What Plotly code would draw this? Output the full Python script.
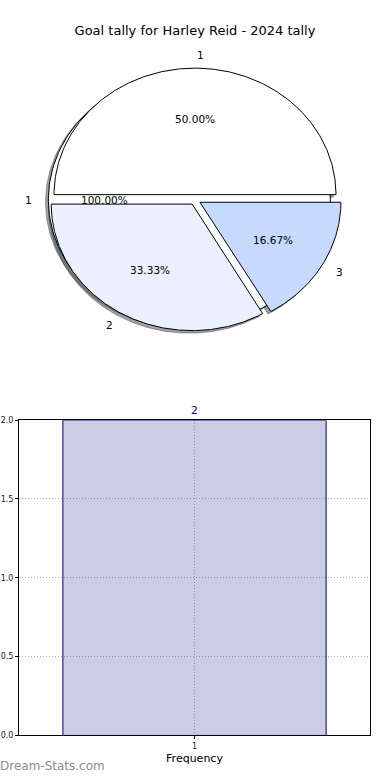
import numpy as np
import plotly.graph_objects as go

# ---------------- data ----------------
chart_title = "Goal tally for Harley Reid - 2024 tally"
goal_labels = ["1", "2", "3"]
goal_counts = [3, 2, 1]
goal_colors = ["#ffffff", "#eaf0fd", "#c6d9fe"]
total_labels = ["1"]
total_counts = [1]
total_colors = ["#ffffff"]
freq_x = [1]
freq_y = [2]
freq_ticks = [0.0, 0.5, 1.0, 1.5, 2.0]
watermark = "Dream-Stats.com"

FONT = "DejaVu Sans"
W, H = 390, 780

# pie pixel geometry (elliptical pie as in the reference)
RX_PX, RY_PX = 141.0, 128.0
PIE_CX_PX, PIE_CY_PX = 195.0, 198.0
PIE_TOP_PX = 390.0
EXPLODE = 0.04
SHADOW = (-0.02, -0.02)


def pie_geometry(values, explode=EXPLODE, startangle=0.0):
    total = float(sum(values))
    t1 = startangle
    out = []
    for v in values:
        t2 = t1 + 360.0 * v / total
        mid = np.radians((t1 + t2) / 2.0)
        cx, cy = explode * np.cos(mid), explode * np.sin(mid)
        out.append(dict(t1=t1, t2=t2, cx=cx, cy=cy, mid=mid, frac=v / total))
        t1 = t2
    return out


def wedge_xy(g, dx=0.0, dy=0.0, n=240):
    t = np.radians(np.linspace(g["t1"], g["t2"], n))
    xs = g["cx"] + dx + np.cos(t)
    ys = g["cy"] + dy + np.sin(t)
    if g["t2"] - g["t1"] < 359.999:
        xs = np.concatenate([[g["cx"] + dx], xs, [g["cx"] + dx]])
        ys = np.concatenate([[g["cy"] + dy], ys, [g["cy"] + dy]])
    return xs, ys


def hex_rgb(h):
    h = h.lstrip("#")
    return tuple(int(h[i:i + 2], 16) for i in (0, 2, 4))


def shadow_color(h):
    r, g, b = hex_rgb(h)
    return f"rgba({int(0.3*r)},{int(0.3*g)},{int(0.3*b)},0.5)"


fig = go.Figure()

pies = [
    (total_labels, total_counts, total_colors),
    (goal_labels, goal_counts, goal_colors),
]
geoms = [pie_geometry(vals) for _, vals, _ in pies]

# shadows first (lower z-order), then wedges
for (labels, vals, cols), gs in zip(pies, geoms):
    for g, c in zip(gs, cols):
        xs, ys = wedge_xy(g, *SHADOW)
        sc = shadow_color(c)
        fig.add_trace(go.Scatter(x=xs, y=ys, mode="lines", fill="toself",
                                 fillcolor=sc, line=dict(color=sc, width=1),
                                 hoverinfo="skip", showlegend=False,
                                 xaxis="x", yaxis="y"))
for (labels, vals, cols), gs in zip(pies, geoms):
    for g, c, lab in zip(gs, cols, labels):
        xs, ys = wedge_xy(g)
        fig.add_trace(go.Scatter(x=xs, y=ys, mode="lines", fill="toself",
                                 fillcolor=c, line=dict(color="black", width=1),
                                 name=lab, hoverinfo="skip", showlegend=False,
                                 xaxis="x", yaxis="y"))

annotations = []
for (labels, vals, cols), gs in zip(pies, geoms):
    for g, lab in zip(gs, labels):
        lx = g["cx"] + 1.1 * np.cos(g["mid"])
        ly = g["cy"] + 1.1 * np.sin(g["mid"])
        annotations.append(dict(x=lx, y=ly, xref="x", yref="y", text=lab,
                                showarrow=False, xanchor="left" if lx > 0 else "right",
                                yanchor="middle", font=dict(family=FONT, size=10.5, color="black")))
        px_ = g["cx"] + 0.6 * np.cos(g["mid"])
        py_ = g["cy"] + 0.6 * np.sin(g["mid"])
        annotations.append(dict(x=px_, y=py_, xref="x", yref="y",
                                text=f"{100*g['frac']:.2f}%", showarrow=False,
                                xanchor="center", yanchor="middle",
                                font=dict(family=FONT, size=10.5, color="black")))

# ---------------- bar chart ----------------
fig.add_trace(go.Bar(x=freq_x, y=freq_y, width=0.75,
                     marker=dict(color="rgba(0,0,128,0.2)",
                                 line=dict(color="navy", width=1)),
                     hoverinfo="skip", showlegend=False,
                     xaxis="x2", yaxis="y2"))
for xv, yv in zip(freq_x, freq_y):
    annotations.append(dict(x=xv, y=yv, xref="x2", yref="y2", text=str(yv),
                            showarrow=False, xanchor="center", yanchor="bottom",
                            yshift=2, font=dict(family=FONT, size=10.5, color="navy")))

annotations.append(dict(x=-2 / W, y=1 - 771 / H, xref="paper", yref="paper",
                        text=watermark, showarrow=False, xanchor="left",
                        yanchor="middle",
                        font=dict(family=FONT, size=12, color="#8c8c8c")))

# axes geometry
x_half = PIE_CX_PX / RX_PX
y_top = PIE_CY_PX / RY_PX
y_bot = -(PIE_TOP_PX - PIE_CY_PX) / RY_PX

bx0, bx1 = 19.0, 370.0
by0, by1 = 421.0, 740.0

fig.update_layout(
    width=W, height=H,
    margin=dict(l=0, r=0, t=0, b=0),
    paper_bgcolor="white", plot_bgcolor="white",
    font=dict(family=FONT, color="black"),
    title=dict(text=chart_title, x=0.5, xanchor="center",
               y=1 - 30 / H, yanchor="middle",
               font=dict(family=FONT, size=13, color="black")),
    xaxis=dict(domain=[0, 1], range=[-x_half, x_half], visible=False,
               fixedrange=True),
    yaxis=dict(domain=[1 - PIE_TOP_PX / H, 1], range=[y_bot, y_top],
               visible=False, fixedrange=True),
    xaxis2=dict(domain=[bx0 / W, bx1 / W], anchor="y2", range=[0.5, 1.5],
                tickvals=freq_x, ticktext=[str(v) for v in freq_x],
                showline=True, linecolor="black", linewidth=1, mirror=True,
                ticks="outside", ticklen=3, tickcolor="black",
                showgrid=True, gridcolor="#b0b0b0", griddash="1px,2px", gridwidth=1,
                zeroline=False, fixedrange=True,
                tickfont=dict(family=FONT, size=8, color="#222"),
                title=dict(text="Frequency", standoff=4,
                           font=dict(family=FONT, size=11, color="black"))),
    yaxis2=dict(domain=[1 - by1 / H, 1 - by0 / H], anchor="x2", range=[0, 2],
                tickvals=freq_ticks, ticktext=[f"{v:.1f}" for v in freq_ticks],
                showline=True, linecolor="black", linewidth=1, mirror=True,
                ticks="outside", ticklen=3, tickcolor="black",
                showgrid=True, gridcolor="#b0b0b0", griddash="1px,2px", gridwidth=1,
                zeroline=False, fixedrange=True,
                tickfont=dict(family=FONT, size=8, color="#222")),
    annotations=annotations,
)

fig.write_html("out.html", config={"displayModeBar": False},
               post_script="document.body.style.margin='0';document.body.style.overflow='hidden';")
